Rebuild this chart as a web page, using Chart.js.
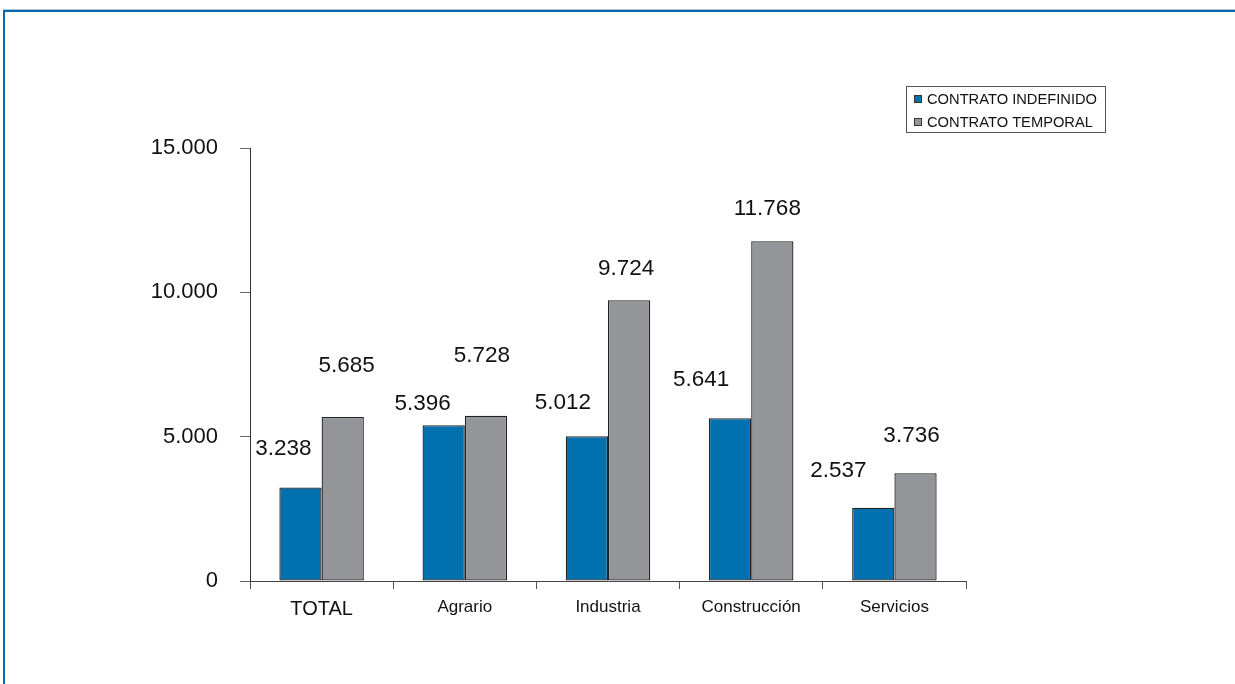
<!DOCTYPE html>
<html>
<head>
<meta charset="utf-8">
<title>Contratos por sector</title>
<script src="https://cdn.jsdelivr.net/npm/chart.js@4/dist/chart.umd.min.js"></script>
<style>
  html, body { margin: 0; padding: 0; background: #ffffff; }
  #wrap { width: 1235px; height: 684px; position: relative; }
</style>
</head>
<body>
<div id="wrap"><canvas id="c" width="1235" height="684"></canvas></div>
<script>
// Sectors and values per contract type
const categories = ['TOTAL', 'Agrario', 'Industria', 'Construcción', 'Servicios'];
const seriesNames = ['CONTRATO INDEFINIDO', 'CONTRATO TEMPORAL'];
const indefinido = [3238, 5396, 5012, 5641, 2537];
const temporal = [5685, 5728, 9724, 11768, 3736];
const yTicks = [0, 5000, 10000, 15000];

const BLUE = '#0070ae';
const GREY = '#939598';
const FONT = '"Liberation Sans", Arial, Helvetica, sans-serif';

// thousands with a dot: 11768 -> 11.768
function fmt(n) {
  return String(Math.round(n)).replace(/\B(?=(\d{3})+(?!\d))/g, '.');
}

// Value labels sit above each bar, nudged per bar (dx, dy from the bar top centre)
const labelNudge = [
  [[-17, -39], [-21, -21], [-24, -34], [-29, -38], [-35, -37]],
  [[4, -51], [-4, -60], [-3, -32], [-5, -33], [-4, -37]]
];

const valueLabels = {
  id: 'valueLabels',
  afterDatasetsDraw(chart) {
    const ctx = chart.ctx;
    ctx.save();
    ctx.font = '22.5px ' + FONT;
    ctx.fillStyle = '#111111';
    ctx.textAlign = 'center';
    ctx.textBaseline = 'middle';
    chart.data.datasets.forEach((ds, di) => {
      const meta = chart.getDatasetMeta(di);
      meta.data.forEach((bar, i) => {
        const [dx, dy] = labelNudge[di][i];
        ctx.fillText(fmt(ds.data[i]), bar.x + dx, bar.y + dy);
      });
    });
    ctx.restore();
  }
};

// Boxed legend in the upper right
const boxLegend = {
  id: 'boxLegend',
  afterDraw(chart) {
    const ctx = chart.ctx;
    const x = 906.5, y = 86.5, w = 199, h = 46;
    ctx.save();
    ctx.strokeStyle = '#555555';
    ctx.lineWidth = 1;
    ctx.strokeRect(x, y, w, h);
    ctx.font = '14.7px ' + FONT;
    ctx.textBaseline = 'middle';
    ctx.textAlign = 'left';
    chart.data.datasets.forEach((ds, i) => {
      const cy = 99 + i * 23;
      ctx.fillStyle = ds.backgroundColor;
      ctx.fillRect(914, cy - 4, 8, 8);
      ctx.strokeStyle = '#333333';
      ctx.strokeRect(914.5, cy - 3.5, 7, 7);
      ctx.fillStyle = '#111111';
      ctx.fillText(ds.label, 927, cy + 1);
    });
    ctx.restore();
  }
};

// Blue frame along the top and left edges of the page
const frame = {
  id: 'frame',
  beforeDraw(chart) {
    const ctx = chart.ctx;
    ctx.save();
    ctx.fillStyle = '#ffffff';
    ctx.fillRect(0, 0, chart.width, chart.height);
    ctx.fillStyle = '#a9c8e0';
    ctx.fillRect(3, 9, chart.width - 3, 1);
    ctx.fillStyle = '#0b68ab';
    ctx.fillRect(3, 10, chart.width - 3, 2);
    ctx.fillRect(3, 10, 2, chart.height - 10);
    ctx.restore();
  }
};

new Chart(document.getElementById('c'), {
  type: 'bar',
  data: {
    labels: categories,
    datasets: [
      {
        label: seriesNames[0],
        data: indefinido,
        backgroundColor: BLUE,
        borderColor: '#222222',
        borderWidth: 1.3,
        borderSkipped: false
      },
      {
        label: seriesNames[1],
        data: temporal,
        backgroundColor: GREY,
        borderColor: '#222222',
        borderWidth: 1.3,
        borderSkipped: false
      }
    ]
  },
  options: {
    responsive: false,
    animation: false,
    devicePixelRatio: 1,
    layout: { padding: { top: 148, right: 269, bottom: 0, left: 0 } },
    plugins: {
      legend: { display: false },
      tooltip: { enabled: false }
    },
    datasets: {
      bar: { categoryPercentage: 0.59, barPercentage: 1.0 }
    },
    scales: {
      x: {
        grid: {
          display: true,
          drawOnChartArea: false,
          drawTicks: true,
          tickLength: 8,
          color: '#555555',
          offset: true
        },
        border: { display: true, color: '#444444', width: 1 },
        ticks: {
          padding: 8,
          color: '#111111',
          font: (c) => ({ family: FONT, size: c.index === 0 ? 20 : 17 })
        },
        afterFit(scale) { scale.height = 103; }
      },
      y: {
        min: 0,
        max: 15000,
        afterBuildTicks(scale) {
          scale.ticks = yTicks.map(v => ({ value: v }));
        },
        grid: {
          display: true,
          drawOnChartArea: false,
          drawTicks: true,
          tickLength: 10,
          color: '#666666'
        },
        border: { display: true, color: '#333333', width: 1 },
        ticks: {
          padding: 22,
          color: '#111111',
          font: { family: FONT, size: 22 },
          callback: (v) => fmt(v)
        },
        afterFit(scale) { scale.width = 250; }
      }
    }
  },
  plugins: [frame, valueLabels, boxLegend]
});
</script>
</body>
</html>
